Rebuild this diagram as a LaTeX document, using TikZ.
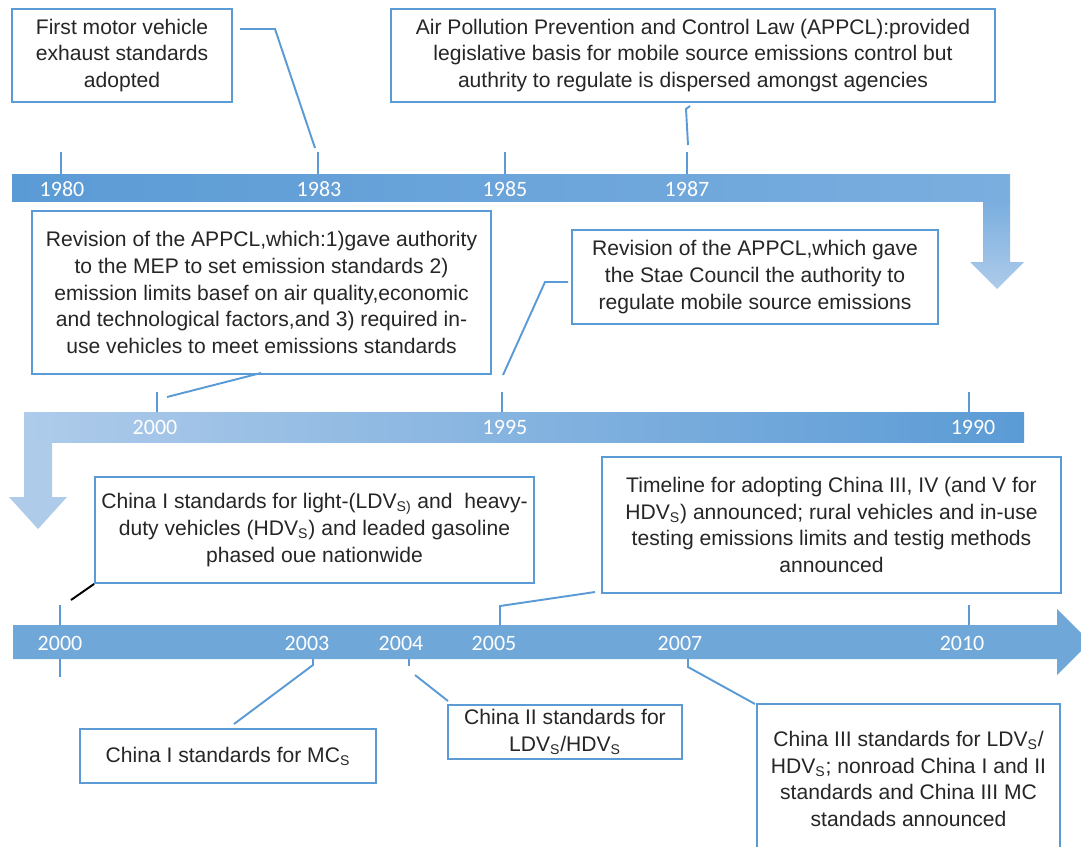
\documentclass[tikz,border=0pt]{standalone}
\usepackage{fontspec}
\setmainfont{Liberation Sans}
\newfontfamily\yearfont{Carlito}
\definecolor{boxblue}{HTML}{5B9BD5}
\definecolor{bandblue}{HTML}{5B9BD5}
\definecolor{bandmid}{HTML}{7AAEDF}
\definecolor{bandlight}{HTML}{AECBEA}
\definecolor{bandthree}{HTML}{70A7D9}
\definecolor{textgray}{HTML}{262626}

\begin{document}
\begin{tikzpicture}[x=0.02cm,y=-0.02cm,
  event box/.style={draw=boxblue,line width=1.1pt,fill=white,align=center,inner sep=0pt,
    text=textgray,font=\fontsize{12}{15.2}\selectfont},
  year/.style={text=white,inner sep=0pt,font=\yearfont\fontsize{12.5}{14}\selectfont},
  link/.style={draw=boxblue,line width=1.1pt},
  tick/.style={draw=boxblue,line width=1.1pt}]
  \useasboundingbox (0,0) rectangle (1081,846);

  % the three bands
  \shade[left color=bandblue,right color=bandmid] (12,174) rectangle (1010,201);
  \shade[top color=bandmid,bottom color=bandlight] (983,201) -- (1010,201) -- (1010,262)
    -- (1024,262) -- (997,289) -- (970,262) -- (983,262) -- cycle;
  \shade[left color=bandlight,right color=bandblue] (24,412) rectangle (1024,442);
  \fill[bandlight] (24,442) -- (52,442) -- (52,497) -- (67,497) -- (38,529) -- (9,497)
    -- (24,497) -- cycle;
  \fill[bandthree] (13,625) -- (1057,625) -- (1057,609) -- (1090,642) -- (1057,675)
    -- (1057,659) -- (13,659) -- cycle;

  % years
  \foreach \x/\yr in {62/1980,319/1983,505/1985,687/1987}
    \node[year] (a\yr) at (\x,189) {\yr};
  \foreach \x/\yr in {155/2000,505/1995,973/1990}
    \node[year] (b\yr) at (\x,427) {\yr};
  \foreach \x/\yr in {60/2000,307/2003,401/2004,494/2005,680/2007,962/2010}
    \node[year] (c\yr) at (\x,643) {\yr};

  % ticks
  \foreach \x in {61,318,505,687}
    \draw[tick] (\x,152) -- (\x,174);
  \foreach \x in {157,502,969}
    \draw[tick] (\x,392) -- (\x,412);
  \foreach \x in {60,969}
    \draw[tick] (\x,605) -- (\x,625);
  \draw[tick] (60,659) -- (60,677);

  % events
  \node[event box,minimum width=4.4cm,minimum height=1.86cm] (first) at (122,55.5)
    {First motor vehicle\\exhaust standards\\adopted};
  \node[event box,minimum width=12.08cm,minimum height=1.86cm] (appcl) at (693,55.5)
    {Air Pollution Prevention and Control Law (APPCL):provided\\legislative basis for mobile source emissions control but\\authrity to regulate is dispersed amongst agencies};
  \node[event box,minimum width=9.18cm,minimum height=3.26cm] (rev1) at (261.5,292.5)
    {Revision of the APPCL,which:1)gave authority\\to the MEP to set emission standards 2)\\emission limits basef on air quality,economic\\and technological factors,and 3) required in-\\use vehicles to meet emissions standards};
  \node[event box,minimum width=7.32cm,minimum height=1.88cm] (rev2) at (755,277)
    {Revision of the APPCL,which gave\\the Stae Council the authority to\\regulate mobile source emissions};
  \node[event box,minimum width=8.78cm,minimum height=2.12cm] (chinaI) at (314.5,530)
    {China I standards for light-(LDV\textsubscript{S)} and~ heavy-\\duty vehicles (HDV\textsubscript{S}) and leaded gasoline\\phased oue nationwide};
  \node[event box,minimum width=9.18cm,minimum height=2.72cm] (plan) at (831.5,525)
    {Timeline for adopting China III, IV (and V for\\HDV\textsubscript{S}) announced; rural vehicles and in-use\\testing emissions limits and testig methods\\announced};
  \node[event box,minimum width=5.92cm,minimum height=1.08cm] (mc) at (228,756)
    {China I standards for MC\textsubscript{S}};
  \node[event box,minimum width=4.68cm,minimum height=1.08cm] (chinaII) at (565,732)
    {China II standards for\\LDV\textsubscript{S}/HDV\textsubscript{S}};
  \node[event box,minimum width=6.06cm,minimum height=3.0cm] (chinaIII) at (908.5,779)
    {China III standards for LDV\textsubscript{S}/\\HDV\textsubscript{S}; nonroad China I and II\\standards and China III MC\\standads announced};

  % connectors
  \coordinate (l83a) at (240,29);
  \coordinate (l83b) at (275,29);
  \coordinate (l83c) at (315,148);
  \coordinate (l87a) at (690,106);
  \coordinate (l87b) at (686,109);
  \coordinate (l87c) at (688,145);
  \coordinate (l00a) at (261,373);
  \coordinate (l00b) at (167,397);
  \coordinate (l95a) at (503,375);
  \coordinate (l95b) at (545,282);
  \coordinate (l95c) at (568,282);
  \coordinate (m00a) at (71,600);
  \coordinate (m05a) at (500,625);
  \coordinate (m05b) at (500,606);
  \coordinate (m05c) at (595,592);
  \coordinate (m03a) at (313,659);
  \coordinate (m03b) at (313,665);
  \coordinate (m03c) at (234,724);
  \coordinate (m04a) at (409,659);
  \coordinate (m04b) at (409,666);
  \coordinate (m04c) at (415,675);
  \coordinate (m04d) at (448,701);
  \coordinate (m07a) at (688,659);
  \coordinate (m07b) at (688,667);
  \coordinate (m07c) at (755,704);

  \path[link] (l83a) -- (l83b) -- (l83c);
  \path[link] (l87a) -- (l87b) -- (l87c);
  \path[link] (l00a) -- (l00b);
  \path[link] (l95a) -- (l95b) -- (l95c);
  \draw[line width=1.1pt] (m00a) -- (chinaI.south west);
  \path[link] (m05a) -- (m05b) -- (m05c);
  \path[link] (m03a) -- (m03b) -- (m03c);
  \path[link] (m04a) -- (m04b);
  \path[link] (m04c) -- (m04d);
  \path[link] (m07a) -- (m07b) -- (m07c);
\end{tikzpicture}
\end{document}
